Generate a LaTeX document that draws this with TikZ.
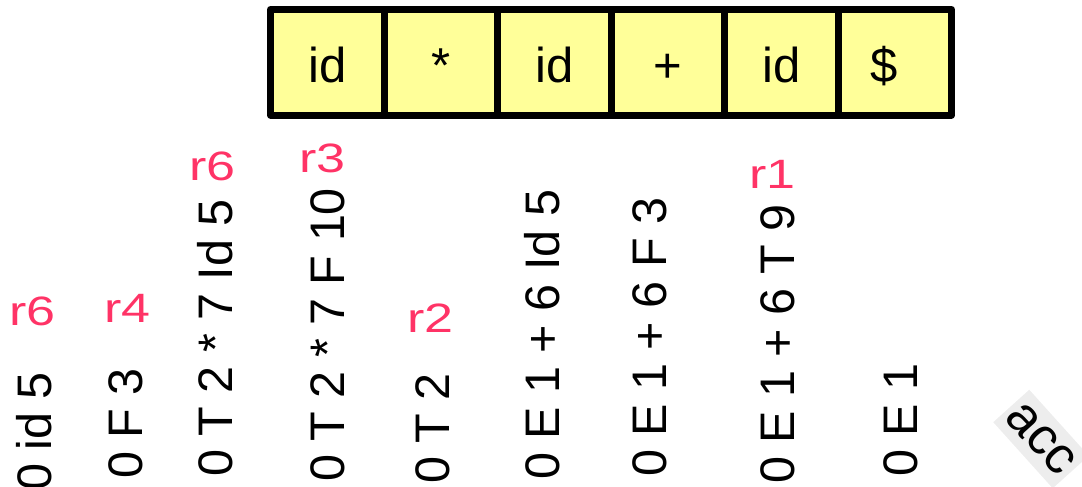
\documentclass[tikz,border=0pt]{standalone}
\usepackage{fontspec}
\setmainfont{Liberation Sans}
\definecolor{cellfill}{HTML}{FFFF99}
\definecolor{redlabel}{HTML}{FF3366}
\definecolor{accgray}{HTML}{EDEDED}
\begin{document}
\begin{tikzpicture}[x=1pt,y=-1pt,
  cell/.style={draw=black, line width=7pt, line join=round, fill=cellfill,
    minimum width=113.5pt, minimum height=105.5pt, inner sep=0pt, outer sep=0pt,
    text height=39.5pt, text depth=0pt, font=\fontsize{49}{50}\selectfont},
  stack/.style={rotate=90, anchor=base west, inner sep=0pt,
    font=\fontsize{48.5}{50}\selectfont},
  action/.style={anchor=base west, inner sep=0pt, text=redlabel,
    font=\fontsize{41}{42}\selectfont}]
\useasboundingbox (0,0) rectangle (1082,487);

% input buffer
\node[cell, anchor=west] (c1) at (270.5,62.25) {id};
\node[cell, anchor=west] (c2) at (c1.east) {*};
\node[cell, anchor=west] (c3) at (c2.east) {id};
\node[cell, anchor=west] (c4) at (c3.east) {+};
\node[cell, anchor=west] (c5) at (c4.east) {id};
\node[cell, anchor=west] (c6) at (c5.east) {\$\hspace*{21pt}};

% stack contents, written bottom to top
\node[stack] (s1) at (51,491)  {0 id 5};
\node[stack] (s2) at (142,479) {0 F 3};
\node[stack] (s3) at (232,477) {0 T 2 * 7 Id 5};
\node[stack] (s4) at (344,482) {0 T 2 * 7 F 10};
\node[stack] (s5) at (449,484) {0 T 2};
\node[stack] (s6) at (559,480) {0 E 1 + 6 Id 5};
\node[stack] (s7) at (666,477) {0 E 1 + 6 F 3};
\node[stack] (s8) at (794,484) {0 E 1 + 6 T 9};
\node[stack] (s9) at (917,477) {0 E 1};

% reductions
\node[action] (r1a) at (9,325)   {\scalebox{1.27}[1]{r6}};
\node[action] (r2a) at (104,322) {\scalebox{1.27}[1]{r4}};
\node[action] (r3a) at (189,180) {\scalebox{1.27}[1]{r6}};
\node[action] (r4a) at (299,172) {\scalebox{1.27}[1]{r3}};
\node[action] (r5a) at (407,332) {\scalebox{1.27}[1]{r2}};
\node[action] (r8a) at (749,188) {\scalebox{1.27}[1]{r1}};

% accept
\node[rotate=-48, fill=accgray, inner xsep=4pt, inner ysep=10pt,
  font=\fontsize{52}{52}\selectfont] (acc) at (1041,439) {acc};
\end{tikzpicture}
\end{document}
